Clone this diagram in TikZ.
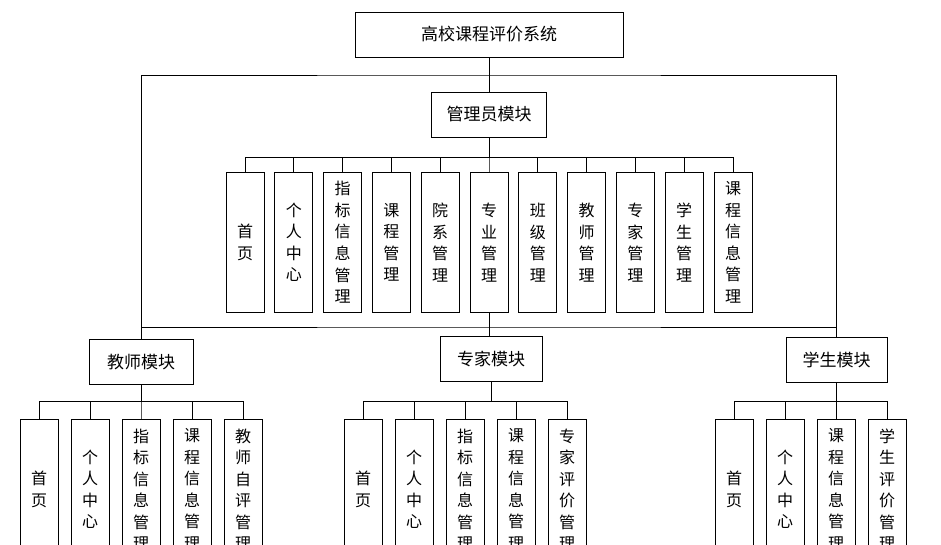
\documentclass[tikz,border=0pt]{standalone}
\usepackage{fontspec}
\setmainfont{Noto Sans CJK SC}
\tikzset{
  mod/.style={ % module box
    draw, thick, rectangle, inner sep=0pt, minimum height=45,
    font=\fontsize{17}{21}\selectfont
  },
  leaf/.style={ % vertical leaf box
    draw, thick, rectangle, inner sep=0pt, anchor=north,
    minimum width=38, minimum height=140, text width=20, align=center,
    font=\fontsize{16}{21.5}\selectfont
  }
}
\begin{document}
\begin{tikzpicture}[x=1pt, y=-1pt, thick]
  \useasboundingbox (0,0) rectangle (941,544);
  \clip (0,0) rectangle (941,544);

  \node[mod, minimum width=268] (top) at (489,34.5) {高校课程评价系统};
  \node[mod, minimum width=115] (adm) at (489,114.5) {管理员模块};
  \node[mod, minimum width=104] (tch) at (141,362) {教师模块};
  \node[mod, minimum width=102] (exp) at (491,358.5) {专家模块};
  \node[mod, minimum width=101] (stu) at (836.5,360) {学生模块};

  \coordinate (bus1) at (489,75);
  \coordinate (bus2) at (489,327);

  % admin leaves
  \foreach \t [count=\i from 0] in {首\\页, 个\\人\\中\\心, 指\\标\\信\\息\\管\\理,
      课\\程\\管\\理, 院\\系\\管\\理, 专\\业\\管\\理, 班\\级\\管\\理,
      教\\师\\管\\理, 专\\家\\管\\理, 学\\生\\管\\理, 课\\程\\信\\息\\管\\理}
    \node[leaf] (a\i) at (245+48.8*\i,172) {\t};

  % teacher leaves
  \foreach \t [count=\i from 0] in {首\\页, 个\\人\\中\\心, 指\\标\\信\\息\\管\\理,
      课\\程\\信\\息\\管\\理, 教\\师\\自\\评\\管\\理}
    \node[leaf] (t\i) at (39+51*\i,419) {\t};

  % expert leaves
  \foreach \t [count=\i from 0] in {首\\页, 个\\人\\中\\心, 指\\标\\信\\息\\管\\理,
      课\\程\\信\\息\\管\\理, 专\\家\\评\\价\\管\\理}
    \node[leaf] (e\i) at (363+51*\i,419) {\t};

  % student leaves
  \foreach \t [count=\i from 0] in {首\\页, 个\\人\\中\\心,
      课\\程\\信\\息\\管\\理, 学\\生\\评\\价\\管\\理}
    \node[leaf] (s\i) at (734+51*\i,419) {\t};

  % connectors
  \draw (top.south) -- (adm.north);
  \draw (tch.north) |- (bus1) -| (stu.north);
  \draw (tch.north) |- (bus2) -| (stu.north);
  \draw (a5.south) -- (a5.south |- exp.north);
  \foreach \i in {0,...,10}
    \draw (a\i.north) -- ++(0,-15) -| (adm.south);
  \foreach \i in {0,...,4}
    \draw (t\i.north) -- ++(0,-18) -| (tch.south);
  \foreach \i in {0,...,4}
    \draw (e\i.north) -- ++(0,-18) -| (exp.south);
  \foreach \i in {0,...,3}
    \draw (s\i.north) -- ++(0,-18) -| (stu.south);
\end{tikzpicture}
\end{document}
